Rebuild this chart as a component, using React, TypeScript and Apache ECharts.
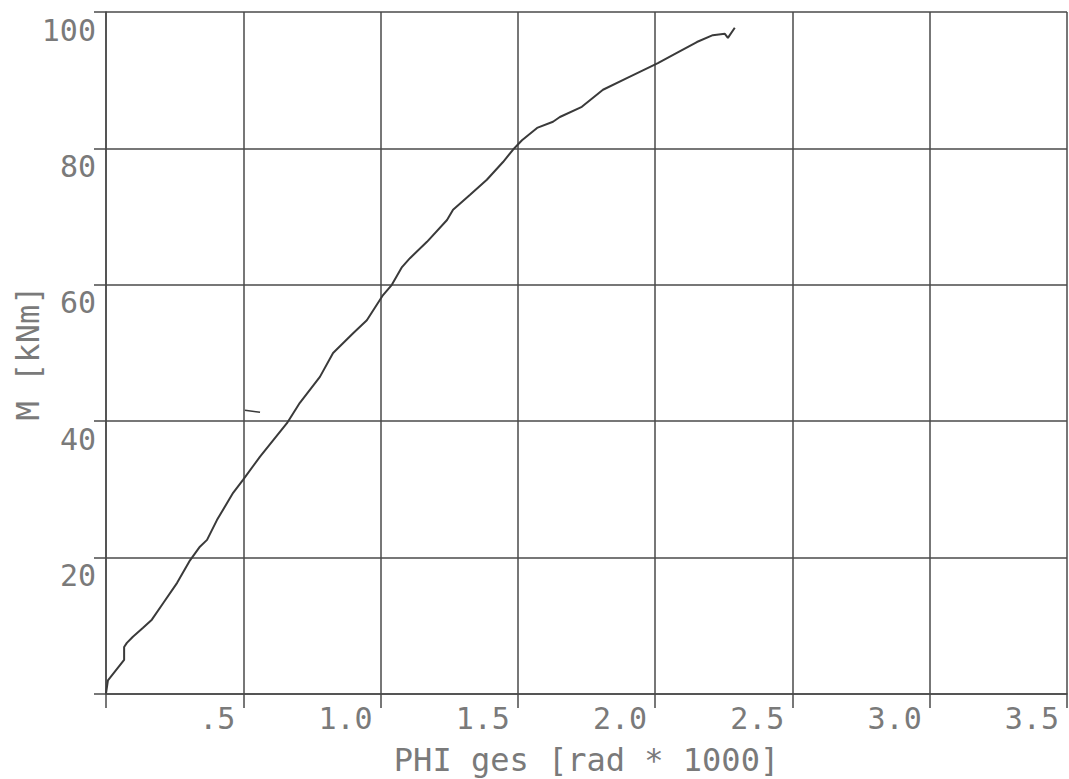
import React, { useEffect, useRef } from "react";
import * as echarts from "echarts";

const phi = [
  0, 0.007, 0.015, 0.066, 0.066, 0.076, 0.098, 0.135, 0.167, 0.208, 0.259, 0.306,
  0.342, 0.368, 0.404, 0.463, 0.499, 0.561, 0.659, 0.706, 0.779, 0.827, 0.9, 0.95,
  1.009, 1.041, 1.078, 1.107, 1.169, 1.242, 1.264, 1.326, 1.387, 1.446, 1.482, 1.515,
  1.57, 1.628, 1.653, 1.733, 1.81, 1.897, 2.01, 2.079, 2.152, 2.21, 2.254, 2.265, 2.29,
];
const moment = [
  0.1, 2.0, 2.4, 5.0, 6.9, 7.5, 8.4, 9.7, 10.9, 13.3, 16.3, 19.6,
  21.6, 22.6, 25.5, 29.5, 31.4, 34.8, 39.7, 42.7, 46.5, 50.0, 52.9, 54.8,
  58.5, 60.0, 62.6, 63.9, 66.3, 69.5, 71.0, 73.2, 75.4, 78.0, 79.8, 81.2,
  83.0, 83.9, 84.6, 86.1, 88.6, 90.3, 92.5, 94.0, 95.6, 96.6, 96.8, 96.2, 97.7,
];
const strayPhi = [0.506, 0.561];
const strayMoment = [41.6, 41.3];

const xTickLabels: Record<string, string> = {
  "0": "",
  "0.5": ".5",
  "1": "1.0",
  "1.5": "1.5",
  "2": "2.0",
  "2.5": "2.5",
  "3": "3.0",
  "3.5": "3.5",
};
const yTickLabels: Record<string, string> = {
  "0": "",
  "20": "20",
  "40": "40",
  "60": "60",
  "80": "80",
  "100": "100",
};

const xName = "PHI ges [rad * 1000]";
const yName = "M [kNm]";

const FONT = "'DejaVu Sans Mono', 'Liberation Mono', monospace";
const GRID_COLOR = "#4a4a4a";
const TEXT_COLOR = "#7a7a7a";

export default function App() {
  const ref = useRef<HTMLDivElement>(null);
  useEffect(() => {
    if (!ref.current) return;
    const chart = echarts.init(ref.current, null, { renderer: "svg" });
    const mainData = phi.map((p, i) => [p, moment[i]]);
    const strayData = strayPhi.map((p, i) => [p, strayMoment[i]]);
    chart.setOption({
      animation: false,
      backgroundColor: "#ffffff",
      grid: {
        left: 106,
        right: 2,
        top: 12,
        bottom: 85,
        containLabel: false,
        outerBoundsMode: "none",
      },
      xAxis: {
        type: "value",
        min: 0,
        max: 3.5,
        interval: 0.5,
        name: xName,
        nameLocation: "middle",
        nameGap: 50,
        nameMoveOverlap: false,
        nameTextStyle: { fontFamily: FONT, fontSize: 32, color: TEXT_COLOR },
        axisLine: { show: true, lineStyle: { color: GRID_COLOR, width: 1.5 } },
        axisTick: { show: true, length: 14, lineStyle: { color: GRID_COLOR, width: 1.5 } },
        splitLine: { show: true, lineStyle: { color: GRID_COLOR, width: 1.5 } },
        axisLabel: {
          showMinLabel: true,
          showMaxLabel: true,
          margin: 24,
          align: "right",
          verticalAlign: "middle",
          padding: [0, 8, 0, 0],
          fontFamily: FONT,
          fontSize: 30,
          color: TEXT_COLOR,
          formatter: (v: number) => xTickLabels[String(v)] ?? String(v),
        },
      },
      yAxis: {
        type: "value",
        min: 0,
        max: 100,
        interval: 20,
        name: yName,
        nameLocation: "middle",
        nameGap: 62,
        nameMoveOverlap: false,
        nameTextStyle: { fontFamily: FONT, fontSize: 32, color: TEXT_COLOR },
        axisLine: { show: true, lineStyle: { color: GRID_COLOR, width: 1.5 } },
        axisTick: { show: true, length: 12, lineStyle: { color: GRID_COLOR, width: 1.5 } },
        splitLine: { show: true, lineStyle: { color: GRID_COLOR, width: 1.5 } },
        axisLabel: {
          showMinLabel: true,
          showMaxLabel: true,
          margin: 10,
          align: "right",
          verticalAlign: "top",
          padding: [3, 0, 0, 0],
          fontFamily: FONT,
          fontSize: 30,
          color: TEXT_COLOR,
          formatter: (v: number) => yTickLabels[String(v)] ?? String(v),
        },
      },
      series: [
        {
          type: "line",
          data: mainData,
          showSymbol: false,
          symbol: "none",
          lineStyle: { color: "#3a3a3a", width: 2 },
          clip: false,
        },
        {
          type: "line",
          data: strayData,
          showSymbol: false,
          symbol: "none",
          lineStyle: { color: "#3a3a3a", width: 1.5 },
        },
      ],
    });
    return () => chart.dispose();
  }, []);
  return (
    <div
      ref={ref}
      style={{ position: "fixed", left: 0, top: 0, width: 1069, height: 779, background: "#fff" }}
    />
  );
}
